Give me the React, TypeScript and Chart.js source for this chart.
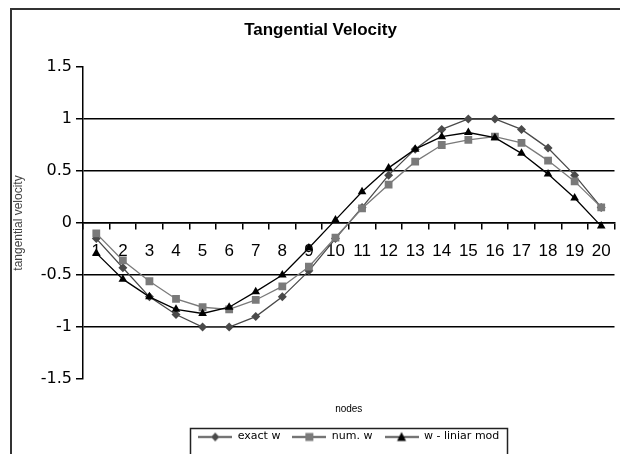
import React, { useEffect, useRef } from 'react';
import { Chart, registerables } from 'chart.js';

Chart.register(...registerables);

const nodes = ['1', '2', '3', '4', '5', '6', '7', '8', '9', '10', '11', '12', '13', '14', '15', '16', '17', '18', '19', '20'];
const exactW = [-0.15, -0.43, -0.71, -0.88, -1.0, -1.0, -0.9, -0.71, -0.46, -0.15, 0.15, 0.46, 0.71, 0.9, 1.0, 1.0, 0.9, 0.72, 0.46, 0.15];
const numW = [-0.1, -0.36, -0.56, -0.73, -0.81, -0.83, -0.74, -0.61, -0.42, -0.14, 0.14, 0.37, 0.59, 0.75, 0.8, 0.83, 0.77, 0.6, 0.4, 0.15];
const linW = [-0.29, -0.54, -0.71, -0.83, -0.87, -0.81, -0.66, -0.5, -0.24, 0.03, 0.3, 0.53, 0.71, 0.83, 0.87, 0.82, 0.67, 0.47, 0.24, -0.03];
const yTicks = [-1.5, -1, -0.5, 0, 0.5, 1, 1.5];
const seriesNames = ['exact w', 'num. w', 'w - liniar mod'];
const chartTitle = 'Tangential Velocity';
const yTitle = 'tangential velocity';
const xTitle = 'nodes';

const COL_EXACT = '#4a4a4a';
const COL_NUM = '#7a7a7a';
const COL_LIN = '#000000';

function legendIcon(kind: string, color: string) {
  const c = document.createElement('canvas');
  c.width = 34;
  c.height = 12;
  const g = c.getContext('2d')!;
  g.strokeStyle = '#222';
  g.lineWidth = 1.3;
  g.beginPath();
  g.moveTo(0, 6.5);
  g.lineTo(34, 6.5);
  g.stroke();
  g.fillStyle = color;
  g.beginPath();
  if (kind === 'diamond') {
    g.moveTo(17, 2);
    g.lineTo(21, 6.5);
    g.lineTo(17, 11);
    g.lineTo(13, 6.5);
  } else if (kind === 'square') {
    g.rect(13, 2.5, 8, 8);
  } else {
    g.moveTo(17, 1.5);
    g.lineTo(21.5, 10.5);
    g.lineTo(12.5, 10.5);
  }
  g.closePath();
  g.fill();
  return c;
}

export default function App() {
  const ref = useRef<HTMLCanvasElement | null>(null);

  useEffect(() => {
    const canvas = ref.current;
    if (!canvas) return;
    const icons = [legendIcon('diamond', COL_EXACT), legendIcon('square', COL_NUM), legendIcon('triangle', COL_LIN)];

    const framePlugin = {
      id: 'frame',
      beforeDraw(chart: any) {
        const ctx = chart.ctx;
        ctx.save();
        ctx.fillStyle = '#ffffff';
        ctx.fillRect(0, 0, chart.width, chart.height);
        ctx.restore();
      },
      afterDraw(chart: any) {
        const ctx = chart.ctx;
        ctx.save();
        ctx.strokeStyle = '#333333';
        ctx.lineWidth = 2;
        ctx.strokeRect(11, 9, 640, 480);
        const lg = chart.legend;
        if (lg && lg.legendHitBoxes && lg.legendHitBoxes.length) {
          const hb = lg.legendHitBoxes;
          const l = hb[0].left - 8;
          const last = hb[hb.length - 1];
          const r = last.left + last.width + 8;
          const t = hb[0].top - 3;
          ctx.lineWidth = 1.5;
          ctx.strokeStyle = '#222222';
          ctx.strokeRect(Math.round(l) + 0.5, Math.round(t) + 0.5, Math.round(r - l), 200);
        }
        ctx.restore();
      },
    };

    const chart = new Chart(canvas, {
      type: 'line',
      data: {
        labels: nodes,
        datasets: [
          {
            label: seriesNames[0],
            data: exactW,
            borderColor: COL_EXACT,
            backgroundColor: COL_EXACT,
            borderWidth: 1.3,
            pointStyle: 'rectRot',
            pointRadius: 4.5,
            pointBorderWidth: 0,
            order: 3,
          },
          {
            label: seriesNames[1],
            data: numW,
            borderColor: COL_NUM,
            backgroundColor: COL_NUM,
            borderWidth: 1.3,
            pointStyle: 'rect',
            pointRadius: 5.5,
            pointBorderWidth: 0,
            order: 2,
          },
          {
            label: seriesNames[2],
            data: linW,
            borderColor: COL_LIN,
            backgroundColor: COL_LIN,
            borderWidth: 1.3,
            pointStyle: 'triangle',
            pointRadius: 5,
            pointBorderWidth: 0,
            order: 1,
          },
        ],
      },
      options: {
        responsive: false,
        animation: false,
        devicePixelRatio: 1,
        layout: { padding: { left: 24, right: 3, top: 8, bottom: 2 } },
        scales: {
          y: {
            type: 'linear',
            min: -1.5,
            max: 1.5,
            afterFit(scale: any) {
              scale.width = 59;
            },
            afterBuildTicks(scale: any) {
              scale.ticks = yTicks.map((v) => ({ value: v }));
            },
            ticks: {
              color: '#000',
              font: { family: '"DejaVu Sans"', size: 16 },
              padding: 4,
              callback: (v: any) => String(v),
            },
            grid: {
              color: (c: any) => (c.tick && Math.abs(c.tick.value) === 1.5 ? 'rgba(0,0,0,0)' : '#000'),
              tickColor: '#000',
              tickLength: 7,
              lineWidth: 1.5,
            },
            border: { display: true, color: '#000', width: 1.5 },
            title: {
              display: true,
              text: yTitle,
              color: '#444',
              font: { family: '"Liberation Sans"', size: 12 },
              padding: { top: -13, bottom: 0 },
            },
          },
          x: {
            type: 'category',
            position: { y: 0 } as any,
            offset: true,
            afterFit(scale: any) {
              scale.paddingLeft = 0;
              scale.paddingRight = 0;
            },
            grid: {
              offset: true,
              drawOnChartArea: false,
              drawTicks: true,
              tickLength: 6,
              tickColor: '#000',
              lineWidth: 1.5,
            },
            border: { display: true, color: '#000', width: 1.5 },
            ticks: {
              color: '#000',
              font: { family: '"Liberation Sans"', size: 17 },
              padding: 12,
              maxRotation: 0,
              autoSkip: false,
            },
          },
        },
        plugins: {
          title: {
            display: true,
            text: chartTitle,
            color: '#000',
            font: { family: '"Liberation Sans"', size: 17, weight: 'bold' },
            padding: { top: 12, bottom: 26.6 },
          },
          legend: {
            display: true,
            position: 'bottom',
            fullSize: false,
            labels: {
              usePointStyle: true,
              pointStyleWidth: 34,
              padding: 12,
              color: '#000',
              font: { family: '"DejaVu Sans"', size: 11 },
              sort: (a: any, b: any) => a.datasetIndex - b.datasetIndex,
              generateLabels: (ch: any) => {
                const items = Chart.defaults.plugins.legend.labels.generateLabels(ch);
                return items.map((it: any) => ({ ...it, pointStyle: icons[it.datasetIndex] }));
              },
            },
            title: {
              display: true,
              text: xTitle,
              color: '#000',
              font: { family: '"Liberation Sans"', size: 10 },
              padding: { top: 25, bottom: 3 },
            },
          },
          tooltip: { enabled: false },
        },
      },
      plugins: [framePlugin],
    } as any);

    return () => chart.destroy();
  }, []);

  return (
    <div style={{ position: 'fixed', left: 0, top: 0, width: 620, height: 454, background: '#fff' }}>
      <canvas ref={ref} width={620} height={454} style={{ width: 620, height: 454, display: 'block' }} />
    </div>
  );
}
